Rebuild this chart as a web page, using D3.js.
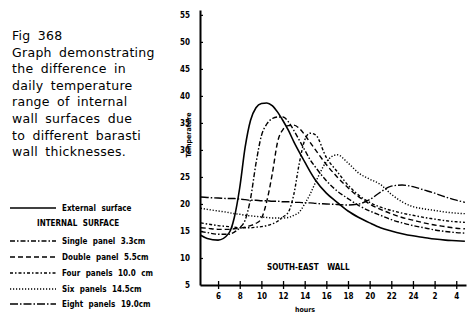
<!DOCTYPE html>
<html>
<head>
<meta charset="utf-8">
<script src="https://cdn.jsdelivr.net/npm/d3@7"></script>
<style>
  body { margin: 0; background: #fff; }
  svg { display: block; }
  .axis path, .axis line { stroke: #000; }
  .axis text { font-family: "DejaVu Sans Condensed", "DejaVu Sans", sans-serif; font-weight: bold; font-size: 8px; fill: #000; }
  .caption { font-family: "DejaVu Sans", sans-serif; font-size: 12.5px; letter-spacing: 0.3px; word-spacing: 3px; fill: #000; }
  .small { font-family: "DejaVu Sans Condensed", "DejaVu Sans", sans-serif; font-weight: bold; font-size: 8px; fill: #000; }
  .legend-label { word-spacing: 3px; }
</style>
</head>
<body>
<div id="chart"></div>
<script>
// hours of the day (26 = 2am, 28 = 4am next day)
var hours = [4.4, 5, 6, 7, 7.5, 8, 8.5, 9, 9.5, 10, 10.5, 11, 11.5, 12, 12.5, 13, 13.5, 14, 14.5, 15,
             16, 17, 18, 19, 20, 21, 22, 23, 24, 25, 26, 27, 28, 28.8];

var external = [14.2, 13.6, 13.3, 14.6, 17.5, 23, 30.5, 35.5, 37.8, 38.6, 38.7, 38.2, 37, 35.4, 33.6, 31.5, 29.6, 27.8, 26, 24.4,
                22, 20.3, 18.7, 17.5, 16.5, 15.6, 15, 14.5, 14.1, 13.8, 13.5, 13.3, 13.2, 13.1];
var singlePanel = [14.9, 14.7, 14.4, 14.4, 14.8, 15.6, 17, 21, 27.5, 32.6, 34.8, 35.8, 36.1, 36.1, 35.2, 33.6, 31.8, 30, 28.2, 26.8,
                   24.3, 22.4, 21, 19.7, 18.7, 17.9, 17.1, 16.5, 16, 15.6, 15.2, 14.9, 14.7, 14.6];
var doublePanel = [15.6, 15.5, 15.3, 15.3, 15.4, 15.5, 15.7, 16, 16.4, 17.3, 20.5, 25.5, 31.5, 33.8, 34.5, 34.6, 34, 32.8, 31.4, 30,
                   27.3, 25, 23, 21.3, 20, 19, 18.2, 17.5, 17, 16.5, 16.1, 15.8, 15.5, 15.4];
var fourPanels = [16.5, 16.3, 16, 15.8, 15.7, 15.6, 15.6, 15.6, 15.7, 15.8, 16, 16.3, 16.8, 17.6, 18.5, 21.8, 27.5, 31.8, 33.1, 32.8,
                  28.6, 26, 23.5, 21.6, 20.3, 19.4, 18.8, 18.3, 17.9, 17.5, 17.2, 16.9, 16.7, 16.6];
var sixPanels = [19.2, 19, 18.7, 18.4, 18.2, 18.1, 17.9, 17.8, 17.7, 17.6, 17.5, 17.4, 17.4, 17.4, 17.5, 17.9, 18.5, 20, 21.8, 24,
                 27.8, 29.1, 27.6, 25.7, 24.6, 23.6, 21.8, 20.4, 19.5, 19.1, 18.8, 18.5, 18.3, 18.2];
var eightPanels = [21.3, 21.2, 21.1, 21, 21, 20.9, 20.8, 20.7, 20.7, 20.6, 20.6, 20.5, 20.5, 20.4, 20.4, 20.3, 20.3, 20.2, 20.2, 20.1,
                   20, 19.9, 19.8, 20, 20.8, 22.2, 23.3, 23.5, 23.2, 22.6, 22, 21.3, 20.7, 20.3];

var seriesNames = ['External surface', 'Single panel 3.3cm', 'Double panel 5.5cm', 'Four panels 10.0 cm', 'Six panels 14.5cm', 'Eight panels 19.0cm'];
var seriesDash = ['none', '5,2,1.5,2', '5,3', '3,2,1.5,2', '1.2,1.8', '8,2,1.5,2'];

var xTicks = [6, 8, 10, 12, 14, 16, 18, 20, 22, 24, 26, 28];
var yTicks = [5, 10, 15, 20, 25, 30, 35, 40, 45, 50, 55];

var captionLines = ['Fig 368', 'Graph demonstrating', 'the difference in', 'daily temperature', 'range of internal',
                    'wall surfaces due', 'to different barasti', 'wall thicknesses.'];

var width = 468, height = 313;

var svg = d3.select('#chart').append('svg')
  .attr('width', width)
  .attr('height', height);

var x = d3.scaleLinear().domain([4.33, 28.9]).range([200, 466]);
var y = d3.scaleLinear().domain([5, 55.9]).range([285, 10]);

// axes
var xAxis = svg.append('g')
  .attr('class', 'axis')
  .attr('transform', 'translate(0,' + y(5) + ')')
  .call(d3.axisBottom(x).tickValues(xTicks).tickSizeOuter(0).tickSizeInner(4).tickPadding(4)
    .tickFormat(function(d){ return d > 24 ? d - 24 : d; }));
xAxis.select('.domain').attr('stroke-width', 2);
xAxis.selectAll('.tick line').attr('y1', -4).attr('stroke-width', 1.3);

var yAxis = svg.append('g')
  .attr('class', 'axis')
  .attr('transform', 'translate(' + x(4.33) + ',0)')
  .call(d3.axisLeft(y).tickValues(yTicks).tickSizeOuter(0).tickSizeInner(3).tickPadding(7));
yAxis.select('.domain').attr('stroke-width', 2);
yAxis.selectAll('.tick line').attr('x2', 3).attr('stroke-width', 1.2);
yAxis.selectAll('.tick').filter(function(d){ return d === 5; }).select('line').remove();

// curves
var allSeries = [external, singlePanel, doublePanel, fourPanels, sixPanels, eightPanels];
var line = d3.line()
  .x(function(d, i){ return x(hours[i]); })
  .y(function(d){ return y(d); })
  .curve(d3.curveMonotoneX);

svg.selectAll('.curve')
  .data(allSeries)
  .enter().append('path')
  .attr('class', 'curve')
  .attr('d', line)
  .attr('fill', 'none')
  .attr('stroke', '#000')
  .attr('stroke-width', function(d, i){ return i === 0 ? 1.6 : 1.4; })
  .attr('stroke-dasharray', function(d, i){ return seriesDash[i]; });

// axis titles
svg.append('text')
  .attr('class', 'small')
  .attr('transform', 'translate(191,135) rotate(-90)')
  .attr('text-anchor', 'middle')
  .style('font-size', '7px')
  .text('Temperature');

svg.append('text')
  .attr('class', 'small')
  .attr('x', 305)
  .attr('y', 312)
  .attr('text-anchor', 'middle')
  .style('font-size', '7px')
  .text('hours');

svg.append('text')
  .attr('class', 'small')
  .attr('x', 267)
  .attr('y', 270)
  .style('font-size', '8px')
  .style('word-spacing', '6px')
  .text('SOUTH-EAST WALL');

// caption
svg.append('g').selectAll('text')
  .data(captionLines)
  .enter().append('text')
  .attr('class', 'caption')
  .attr('x', 12)
  .attr('y', function(d, i){ return 40 + i * 16.6; })
  .text(function(d){ return d; });

// legend
var legend = svg.append('g');
var legendY = [208, 241, 257, 273, 289, 304];

legend.selectAll('line')
  .data(seriesNames)
  .enter().append('line')
  .attr('x1', 10).attr('x2', 56)
  .attr('y1', function(d, i){ return legendY[i]; })
  .attr('y2', function(d, i){ return legendY[i]; })
  .attr('stroke', '#000')
  .attr('stroke-width', 1.4)
  .attr('stroke-dasharray', function(d, i){ return seriesDash[i]; });

legend.selectAll('text')
  .data(seriesNames)
  .enter().append('text')
  .attr('class', 'small legend-label')
  .attr('x', 62)
  .attr('y', function(d, i){ return legendY[i] + 3; })
  .text(function(d){ return d; });

legend.append('text')
  .attr('class', 'small legend-label')
  .attr('x', 37)
  .attr('y', 226)
  .text('INTERNAL SURFACE');
</script>
</body>
</html>
